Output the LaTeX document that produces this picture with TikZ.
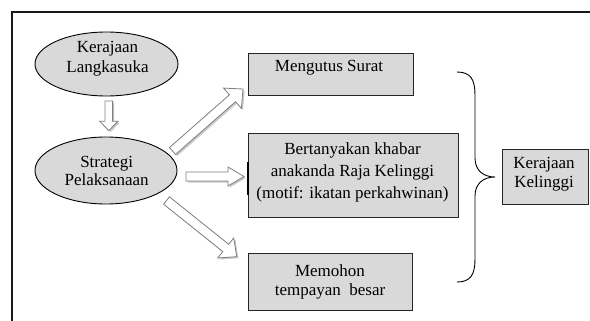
\documentclass[tikz,border=0pt]{standalone}
\usepackage{fontspec}
\setmainfont{Liberation Serif}
\usetikzlibrary{calc,shadows,shapes.geometric}
\definecolor{shapegray}{HTML}{D9D9D9}
\definecolor{arrowline}{HTML}{7F7F7F}
\tikzset{
  ell/.style={ellipse, draw=black, fill=shapegray, line width=0.9pt, inner sep=0pt},
  box/.style={rectangle, draw=black!85, fill=shapegray, line width=0.9pt, inner sep=0pt},
  lbl/.style={align=center, inner sep=0pt},
  blockarrow/.style={draw=arrowline, fill=white, line width=0.8pt, line join=miter,
    drop shadow={shadow xshift=1.6pt, shadow yshift=-1.6pt, opacity=0.3, fill=black!70}},
  bracestyle/.style={draw=black, line width=0.9pt},
  framestyle/.style={draw=black!90, line width=1.2pt},
}
\newcommand\myblockarrow[5]{%
  \coordinate (#1-#2-h) at ($(#2)!#5!(#1)$);
  \draw[blockarrow] ($(#1)!#3!90:(#2)$) -- ($(#1-#2-h)!#3!-90:(#1)$) -- ($(#1-#2-h)!#4!-90:(#1)$)
    -- (#2) -- ($(#1-#2-h)!#4!90:(#1)$) -- ($(#1-#2-h)!#3!90:(#1)$) -- ($(#1)!#3!-90:(#2)$) -- cycle;
}
\begin{document}
\begin{tikzpicture}[x=1pt, y=-1pt]
\useasboundingbox (0,0) rectangle (590,321);
% frame
\coordinate (f1) at (12,321);
\coordinate (f2) at (12,12);
\coordinate (f3) at (590,12);
\draw[framestyle] (f1) -- (f2) -- (f3);

% ellipses
\node[ell, minimum width=143pt, minimum height=64pt] (kl) at (106.5,64) {};
\node[lbl, font=\fontsize{17}{20}\selectfont] (klt) at (107.5,58.3) {Kerajaan\\Langkasuka};
\node[ell, minimum width=142pt, minimum height=67pt] (sp) at (106,170.5) {};
\node[lbl, font=\fontsize{17}{17.5}\selectfont] (spt) at (106.7,171) {Strategi\\Pelaksanaan};

% boxes
\node[box, minimum width=165pt, minimum height=42pt] (b1) at (330.5,74) {};
\node[lbl, font=\fontsize{17}{20}\selectfont] (b1t) at (329,68) {Mengutus Surat};
\node[box, minimum width=210pt, minimum height=84pt] (b2) at (353,175) {};
\node[lbl, font=\fontsize{17}{22}\selectfont] (b2t) at (352.5,172.3) {Bertanyakan khabar\\anakanda Raja Kelinggi\\(motif: ikatan perkahwinan)};
\node[box, minimum width=164pt, minimum height=57pt] (b3) at (330,281.5) {};
\node[lbl, font=\fontsize{17}{19}\selectfont] (b3t) at (330,282) {Memohon\\tempayan\ \ besar};
\node[box, minimum width=86pt, minimum height=55pt] (b4) at (545,176.5) {};
\node[lbl, font=\fontsize{17}{19}\selectfont] (b4t) at (544,174) {Kerajaan\\Kelinggi};

% thick mark on box 2
\draw[line width=2.6pt] ($(b2.west)+(0.3,-13)$) -- ($(b2.west)+(0.3,20)$);

% block arrows
\coordinate (dt) at ($(kl.south)+(2.3,4.5)$);
\coordinate (dh) at ($(sp.north)+(2.8,-6)$);
\myblockarrow{dt}{dh}{3.8pt}{9.2pt}{9.3pt}
\coordinate (ht) at (186,176.5);
\coordinate (hh) at (244,176.5);
\myblockarrow{ht}{hh}{4.5pt}{9.5pt}{16pt}
\coordinate (ut) at (172.5,151);
\coordinate (uh) at (243,89);
\myblockarrow{ut}{uh}{4.6pt}{13.5pt}{14pt}
\coordinate (lt) at (166.5,200.5);
\coordinate (lh) at (236.7,256.7);
\myblockarrow{lt}{lh}{4.7pt}{12.8pt}{14pt}

% brace
\coordinate (bt) at (457,72);
\coordinate (br) at (495,177);
\coordinate (bb) at (457,282);
\draw[bracestyle] (bt) .. controls (471,72) and (475,80) .. (475,95) -- (475,158)
  .. controls (475,171) and (484,177) .. (br)
  .. controls (484,177) and (475,183) .. (475,196) -- (475,259)
  .. controls (475,274) and (471,282) .. (bb);
\end{tikzpicture}
\end{document}
